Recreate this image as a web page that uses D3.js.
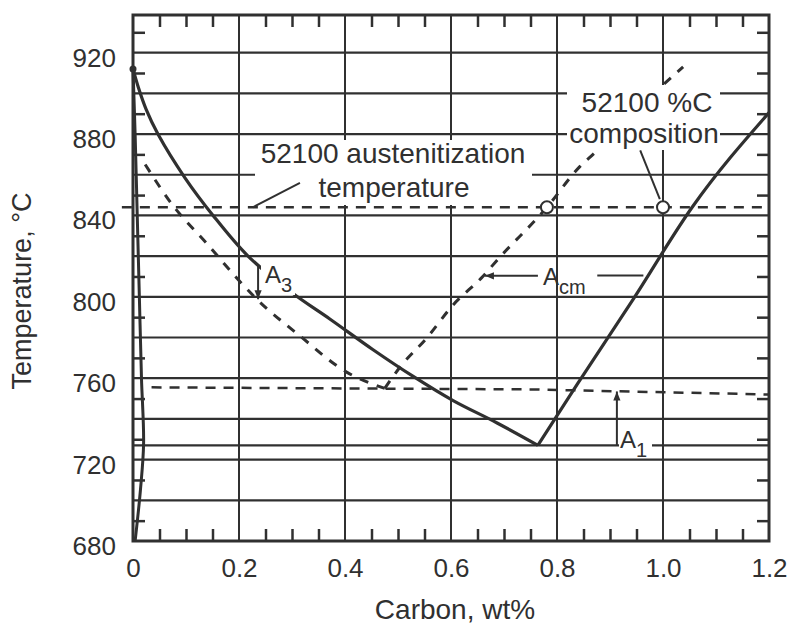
<!DOCTYPE html>
<html>
<head>
<meta charset="utf-8">
<script src="https://cdn.jsdelivr.net/npm/d3@7"></script>
<style>
body { margin: 0; background: #fff; }
svg text { font-family: "Liberation Sans", Arial, Helvetica, sans-serif; fill: #303030; }
</style>
</head>
<body>
<svg id="chart" width="793" height="626"></svg>
<script>
// axis values
var carbonMajor = [0, 0.2, 0.4, 0.6, 0.8, 1.0, 1.2];
var carbonLabels = ["0", "0.2", "0.4", "0.6", "0.8", "1.0", "1.2"];
var carbonMinor = [0.05, 0.1, 0.15, 0.25, 0.3, 0.35, 0.45, 0.5, 0.55, 0.65, 0.7, 0.75, 0.85, 0.9, 0.95, 1.05, 1.1, 1.15];
var tempLabels = [680, 720, 760, 800, 840, 880, 920];
var tempGrid = [700, 720, 727, 740, 760, 780, 800, 820, 840, 860, 880, 900, 920];
var tempMinor = [690, 710, 730, 750, 770, 790, 810, 830, 850, 870, 890, 910, 930];

// phase boundaries, [wt% C, deg C]
var a3Line = [[0, 912], [0.01, 903], [0.025, 892], [0.047, 880], [0.098, 858.5], [0.151, 840], [0.217, 820], [0.3, 802], [0.372, 789], [0.453, 774], [0.528, 761], [0.604, 749], [0.687, 738], [0.764, 727]];
var acmLine = [[0.764, 727], [0.838, 757], [0.943, 798.5], [1.055, 844], [1.2, 890.5]];
var ferriteLine = [[0, 912], [0.004, 880], [0.008, 840], [0.012, 800], [0.016, 760], [0.02, 728], [0.014, 705], [0.004, 680]];
// 52100 steel
var a3Steel = [[0.023, 865], [0.075, 845], [0.14, 826], [0.2, 808], [0.233, 799], [0.314, 781], [0.403, 763], [0.475, 755]];
var acmSteel = [[0.475, 755], [0.504, 765.5], [0.555, 780], [0.604, 796], [0.66, 810], [0.687, 818], [0.781, 844], [0.843, 864], [0.872, 871], [0.95, 892], [1.038, 913]];
var a1Steel = [[0.035, 755.5], [0.75, 754.5], [1.2, 752]];
var austLine = [[-0.021, 844], [1.2, 844]];
var steelPoints = [[0.781, 844], [1.0, 844]];

var ink = "#303030";
var plotL = 133, plotR = 769, plotT = 15, plotB = 541;

var svg = d3.select("#chart");
var x = d3.scaleLinear().domain([0, 1.2]).range([plotL, plotR]);
var y = d3.scaleLinear().domain([680, 938.5]).range([plotB, plotT]);

var defs = svg.append("defs");
defs.append("marker")
	.attr("id", "arrow")
	.attr("viewBox", "0 0 10 10")
	.attr("refX", 10).attr("refY", 5)
	.attr("markerWidth", 11).attr("markerHeight", 9)
	.attr("markerUnits", "userSpaceOnUse")
	.attr("orient", "auto")
	.append("path")
	.attr("d", "M0,1 L10,5 L0,9 z")
	.attr("fill", ink);

// grid
svg.append("g").selectAll("line").data(tempGrid).enter().append("line")
	.attr("x1", x(0)).attr("x2", x(1.2))
	.attr("y1", function(d) { return y(d); }).attr("y2", function(d) { return y(d); })
	.attr("stroke", ink).attr("stroke-width", 2.2);
svg.append("g").selectAll("line").data(carbonMajor.slice(1, -1)).enter().append("line")
	.attr("x1", function(d) { return x(d); }).attr("x2", function(d) { return x(d); })
	.attr("y1", y.range()[0]).attr("y2", y.range()[1])
	.attr("stroke", ink).attr("stroke-width", 2);

// minor ticks, pointing inward
function minor(axis, tx, ty) {
	var g = svg.append("g").attr("transform", "translate(" + tx + "," + ty + ")")
		.call(axis.tickSize(-12).tickFormat(""));
	g.select(".domain").remove();
	g.selectAll("line").attr("stroke", ink).attr("stroke-width", 2.5);
}
minor(d3.axisTop(x).tickValues(carbonMinor), 0, plotT);
minor(d3.axisBottom(x).tickValues(carbonMinor), 0, plotB);
minor(d3.axisLeft(y).tickValues(tempMinor), plotL, 0);
minor(d3.axisRight(y).tickValues(tempMinor), plotR, 0);

// curves
var line = d3.line().x(function(d) { return x(d[0]); }).y(function(d) { return y(d[1]); });
var smooth = d3.line().x(function(d) { return x(d[0]); }).y(function(d) { return y(d[1]); }).curve(d3.curveMonotoneX);
var round = d3.line().x(function(d) { return x(d[0]); }).y(function(d) { return y(d[1]); }).curve(d3.curveCatmullRom);

[austLine, a1Steel].forEach(function(d) {
	svg.append("path").attr("d", line(d))
		.attr("fill", "none").attr("stroke", ink).attr("stroke-width", 2.5)
		.attr("stroke-dasharray", "10,8");
});
[a3Steel, acmSteel].forEach(function(d) {
	svg.append("path").attr("d", smooth(d))
		.attr("fill", "none").attr("stroke", ink).attr("stroke-width", 3)
		.attr("stroke-dasharray", "9,9");
});
svg.append("path").attr("d", round(a3Line))
	.attr("fill", "none").attr("stroke", ink).attr("stroke-width", 3.2);
svg.append("path").attr("d", smooth(acmLine))
	.attr("fill", "none").attr("stroke", ink).attr("stroke-width", 3.2);
svg.append("path").attr("d", round(ferriteLine))
	.attr("fill", "none").attr("stroke", ink).attr("stroke-width", 3);
svg.append("circle").attr("cx", x(a3Line[0][0])).attr("cy", y(a3Line[0][1]))
	.attr("r", 3.5).attr("fill", ink);

// white boxes behind labels
[[255, 140, 277, 65], [567, 85, 153, 65], [261, 262, 34, 33], [619, 430, 33, 28]].forEach(function(b) {
	svg.append("rect").attr("x", b[0]).attr("y", b[1]).attr("width", b[2]).attr("height", b[3])
		.attr("fill", "#fff");
});

// frame
svg.append("rect").attr("x", plotL).attr("y", plotT)
	.attr("width", plotR - plotL).attr("height", plotB - plotT)
	.attr("fill", "none").attr("stroke", ink).attr("stroke-width", 3);

// tick labels
var gx = svg.append("g").attr("transform", "translate(0," + plotB + ")")
	.call(d3.axisBottom(x).tickValues(carbonMajor).tickSize(0).tickPadding(17.5)
		.tickFormat(function(d, i) { return carbonLabels[i]; }));
gx.select(".domain").remove();
gx.selectAll("text").style("font-size", "26px");
var gy = svg.append("g").attr("transform", "translate(" + plotL + ",0)")
	.call(d3.axisLeft(y).tickValues(tempLabels).tickSize(0).tickPadding(17));
gy.select(".domain").remove();
gy.selectAll("text").style("font-size", "26px").attr("dy", "0.52em");

// axis titles
svg.append("text").attr("x", 455).attr("y", 619).attr("text-anchor", "middle")
	.style("font-size", "28px").text("Carbon, wt%");
svg.append("text").attr("transform", "translate(31,291) rotate(-90)").attr("text-anchor", "middle")
	.style("font-size", "27px").text("Temperature, °C");

// annotations
function note(px, py, str, size) {
	return svg.append("text").attr("x", px).attr("y", py).attr("text-anchor", "middle")
		.style("font-size", size + "px").text(str);
}
note(393, 163, "52100 austenitization", 28);
note(394, 197, "temperature", 28);
note(647, 112, "52100 %C", 28);
note(644, 143, "composition", 28);

function symbol(px, py, sub) {
	var t = svg.append("text").attr("x", px).attr("y", py).style("font-size", "24px").text("A");
	t.append("tspan").attr("dy", 9).style("font-size", "20px").text(sub);
}
symbol(265, 283, "3");
symbol(543, 285, "cm");
symbol(620, 448, "1");

function seg(a, b, arrow) {
	var p = svg.append("path").attr("d", line([a, b]))
		.attr("fill", "none").attr("stroke", ink).attr("stroke-width", 2);
	if (arrow) p.attr("marker-end", "url(#arrow)");
}
seg([0.236, 815.6], [0.236, 798.8], true);
seg([0.913, 727], [0.913, 753.5], true);
seg([0.764, 810.3], [0.664, 810.3], true);
seg([0.876, 810.5], [0.963, 810.5], false);
seg([0.226, 844], [0.315, 856], false);
seg([0.957, 872], [0.994, 848], false);

svg.append("g").selectAll("circle").data(steelPoints).enter().append("circle")
	.attr("cx", function(d) { return x(d[0]); }).attr("cy", function(d) { return y(d[1]); })
	.attr("r", 6).attr("fill", "#fff").attr("stroke", ink).attr("stroke-width", 2);
</script>
</body>
</html>
